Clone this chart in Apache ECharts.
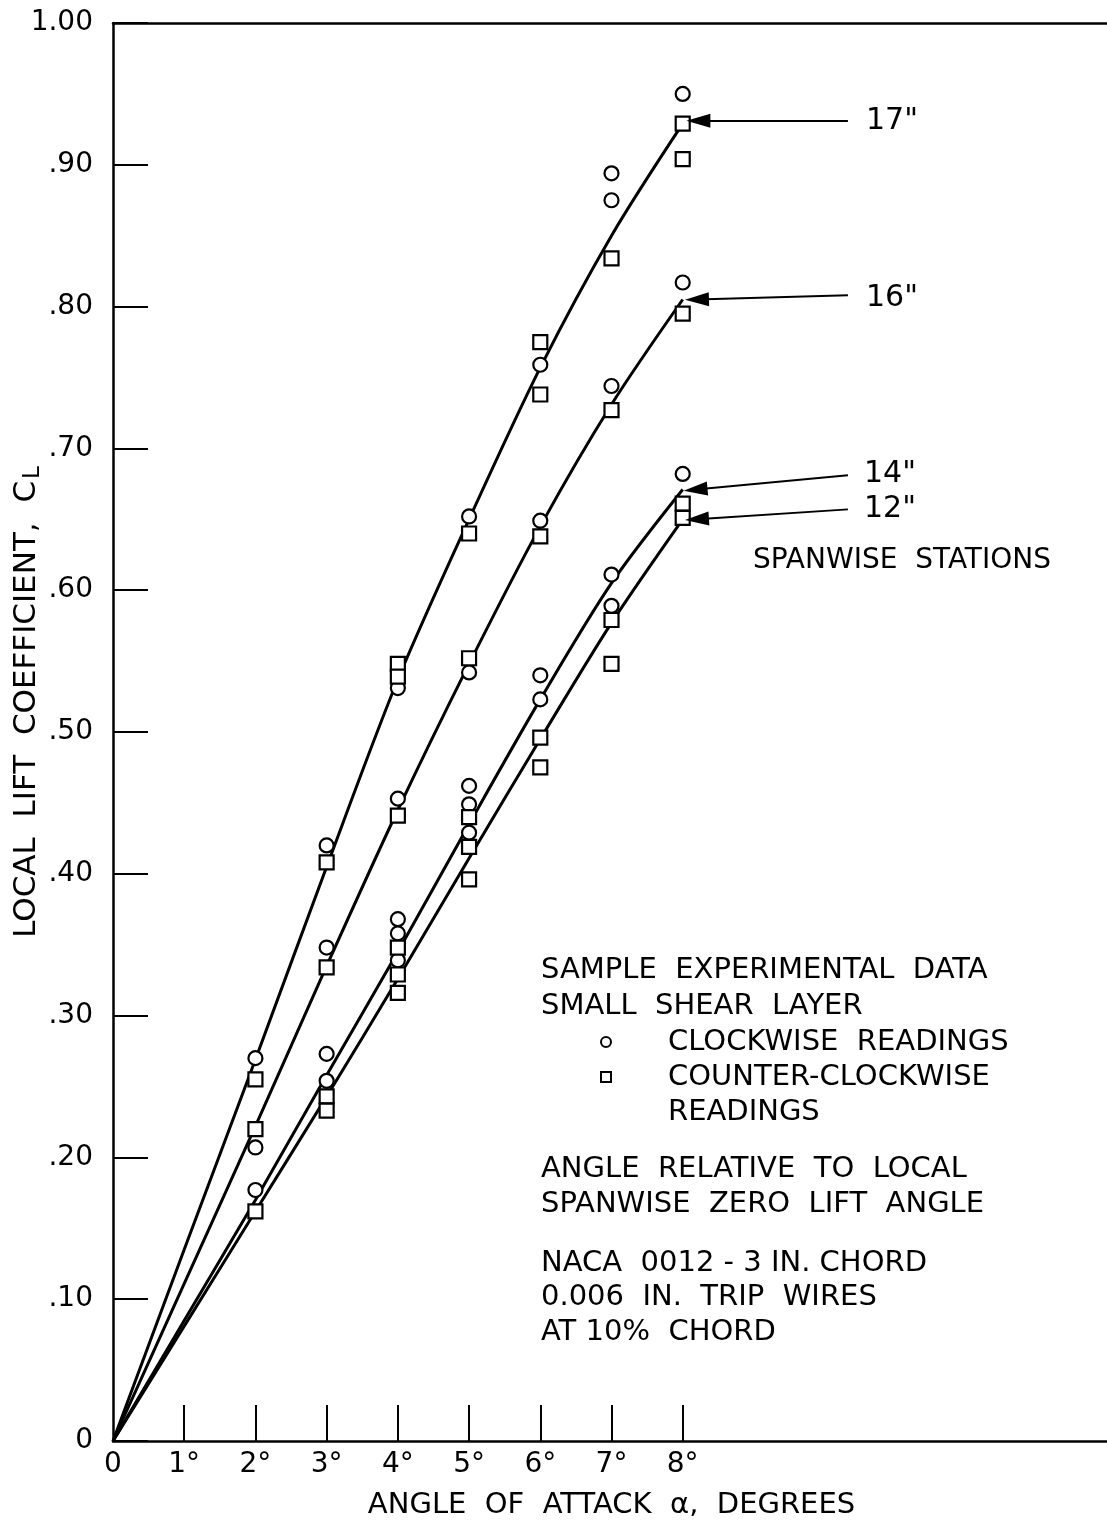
<!DOCTYPE html>
<html>
<head>
<meta charset="utf-8">
<script src="https://cdn.jsdelivr.net/npm/echarts@6/dist/echarts.min.js"></script>
<style>
  html, body { margin: 0; padding: 0; background: #fff; }
  #main { width: 1107px; height: 1522px; }
</style>
</head>
<body>
<div id="main"></div>
<script>
// faired curves, one per spanwise station
const angles = [0, 1, 2, 3, 4, 5, 6, 7, 8];
const station17 = [0, 0.135, 0.269, 0.405, 0.537, 0.650, 0.757, 0.850, 0.929];
const station16 = [0, 0.111, 0.222, 0.335, 0.445, 0.548, 0.645, 0.731, 0.805];
const station14 = [0, 0.085, 0.170, 0.258, 0.345, 0.435, 0.523, 0.605, 0.671];
const station12 = [0, 0.081, 0.162, 0.243, 0.326, 0.411, 0.495, 0.577, 0.650];

// measured points [angle, CL]
const clockwise = [
  [2, 0.270], [2, 0.207], [2, 0.177],
  [3, 0.420], [3, 0.348], [3, 0.273], [3, 0.254],
  [4, 0.531], [4, 0.453], [4, 0.368], [4, 0.358], [4, 0.339],
  [5, 0.652], [5, 0.542], [5, 0.462], [5, 0.449], [5, 0.429],
  [6, 0.759], [6, 0.649], [6, 0.540], [6, 0.523],
  [7, 0.894], [7, 0.875], [7, 0.744], [7, 0.611], [7, 0.589],
  [8, 0.950], [8, 0.817], [8, 0.682]
];
const counterClockwise = [
  [2, 0.255], [2, 0.220], [2, 0.162],
  [3, 0.408], [3, 0.334], [3, 0.243], [3, 0.233],
  [4, 0.548], [4, 0.539], [4, 0.441], [4, 0.348], [4, 0.329], [4, 0.316],
  [5, 0.640], [5, 0.552], [5, 0.440], [5, 0.419], [5, 0.396],
  [6, 0.775], [6, 0.738], [6, 0.638], [6, 0.496], [6, 0.475],
  [7, 0.834], [7, 0.727], [7, 0.579], [7, 0.548],
  [8, 0.929], [8, 0.904], [8, 0.795], [8, 0.661], [8, 0.651]
];

// axis ticks / labels
const xTickValues = [1, 2, 3, 4, 5, 6, 7, 8];
const xLabelValues = [0, 1, 2, 3, 4, 5, 6, 7, 8];
const yTickLabels = ['0', '.10', '.20', '.30', '.40', '.50', '.60', '.70', '.80', '.90', '1.00'];

// station call-outs: arrow tail and head in [angle, CL]
const stationNames = ['17"', '16"', '14"', '12"'];
const arrowTail = [[10.32, 0.931], [10.32, 0.808], [10.32, 0.681], [10.32, 0.657]];
const arrowHead = [[8.22, 0.931], [8.20, 0.805], [8.18, 0.671], [8.20, 0.650]];

const FONT = '"DejaVu Sans", sans-serif';

var chart = echarts.init(document.getElementById('main'), null, { renderer: 'canvas' });

function curve(name, values, idx) {
  return {
    name: name,
    type: 'line',
    smooth: 0.3,
    showSymbol: false,
    symbol: 'none',
    z: 2,
    lineStyle: { color: '#000', width: 3 },
    data: angles.map(function (a, i) { return [a, values[i]]; }),
    markLine: {
      silent: true,
      symbol: ['none', 'triangle'],
      symbolSize: [14, 24],
      lineStyle: { color: '#000', width: 2, type: 'solid' },
      label: { show: false },
      data: [[{ coord: arrowTail[idx] }, { coord: arrowHead[idx] }]]
    }
  };
}

// text block lines (left x, centre y, text)
const notes = [
  [541, 970, 'SAMPLE  EXPERIMENTAL  DATA'],
  [541, 1006, 'SMALL  SHEAR  LAYER'],
  [668, 1042, 'CLOCKWISE  READINGS'],
  [668, 1077, 'COUNTER-CLOCKWISE'],
  [668, 1112, 'READINGS'],
  [541, 1169, 'ANGLE  RELATIVE  TO  LOCAL'],
  [541, 1204, 'SPANWISE  ZERO  LIFT  ANGLE'],
  [541, 1263, 'NACA  0012 - 3 IN. CHORD'],
  [541, 1297, '0.006  IN.  TRIP  WIRES'],
  [541, 1332, 'AT 10%  CHORD']
];

var graphics = notes.map(function (n) {
  return {
    type: 'text', x: n[0], y: n[1],
    style: { text: n[2], font: '29px ' + FONT, fill: '#000', textVerticalAlign: 'middle' }
  };
});
graphics.push({ type: 'circle', shape: { cx: 606, cy: 1042, r: 5 }, style: { fill: '#fff', stroke: '#000', lineWidth: 2 } });
graphics.push({ type: 'rect', shape: { x: 601, y: 1072, width: 10, height: 10 }, style: { fill: '#fff', stroke: '#000', lineWidth: 2 } });
const stationLabelPos = [[866, 121], [866, 298], [864, 474], [864, 509]];
stationNames.forEach(function (s, i) {
  graphics.push({
    type: 'text', x: stationLabelPos[i][0], y: stationLabelPos[i][1],
    style: { text: s, font: '30px ' + FONT, fill: '#000', textVerticalAlign: 'middle' }
  });
});
graphics.push({
  type: 'text', x: 753, y: 561,
  style: { text: 'SPANWISE  STATIONS', font: '28px ' + FONT, fill: '#000', textVerticalAlign: 'middle' }
});

var option = {
  backgroundColor: '#fff',
  animation: false,
  grid: { left: 113, right: -3, top: 23, bottom: 81, containLabel: false, outerBoundsMode: 'none' },
  xAxis: [
    {
      type: 'value',
      min: 0, max: 14, interval: 1,
      name: 'ANGLE  OF  ATTACK  α,  DEGREES',
      nameLocation: 'middle',
      nameGap: 50,
      nameMoveOverlap: false,
      nameTextStyle: { fontFamily: FONT, fontSize: 29, color: '#000', verticalAlign: 'top' },
      axisLine: { show: true, onZero: false, lineStyle: { color: '#000', width: 2.5 } },
      axisTick: { show: true, inside: true, length: 36, customValues: xTickValues, lineStyle: { color: '#000', width: 2 } },
      axisLabel: {
        show: true, customValues: xLabelValues, margin: 10,
        fontFamily: FONT, fontSize: 28, color: '#000',
        formatter: function (v) { return v === 0 ? '0' : v + '°'; }
      },
      splitLine: { show: false }
    },
    {
      type: 'value', position: 'top', min: 0, max: 14,
      axisLine: { show: true, onZero: false, lineStyle: { color: '#000', width: 2.5 } },
      axisTick: { show: false }, axisLabel: { show: false }, splitLine: { show: false }
    }
  ],
  yAxis: {
    type: 'value',
    min: 0, max: 1, interval: 0.1,
    name: 'LOCAL  LIFT  COEFFICIENT,  C{sub|L}',
    nameLocation: 'middle',
    nameGap: 68,
    nameMoveOverlap: false,
    nameTextStyle: {
      fontFamily: FONT, fontSize: 31, color: '#000', padding: [0, 0, 0, 60],
      rich: { sub: { fontFamily: FONT, fontSize: 23, color: '#000', padding: [14, 0, 0, 2] } }
    },
    axisLine: { show: true, onZero: false, lineStyle: { color: '#000', width: 2.5 } },
    axisTick: { show: true, inside: true, length: 35, lineStyle: { color: '#000', width: 2 } },
    axisLabel: {
      margin: 20, fontFamily: FONT, fontSize: 28, color: '#000',
      formatter: function (v) { return yTickLabels[Math.round(v * 10)]; }
    },
    splitLine: { show: false }
  },
  graphic: graphics,
  series: [
    curve('17"', station17, 0),
    curve('16"', station16, 1),
    curve('14"', station14, 2),
    curve('12"', station12, 3),
    {
      name: 'CLOCKWISE READINGS', type: 'scatter', z: 4,
      symbol: 'circle', symbolSize: 14,
      itemStyle: { color: '#fff', borderColor: '#000', borderWidth: 2.2, opacity: 1 },
      data: clockwise
    },
    {
      name: 'COUNTER-CLOCKWISE READINGS', type: 'scatter', z: 4,
      symbol: 'rect', symbolSize: 14,
      itemStyle: { color: '#fff', borderColor: '#000', borderWidth: 2.2, opacity: 1 },
      data: counterClockwise
    }
  ]
};
chart.setOption(option);
</script>
</body>
</html>
